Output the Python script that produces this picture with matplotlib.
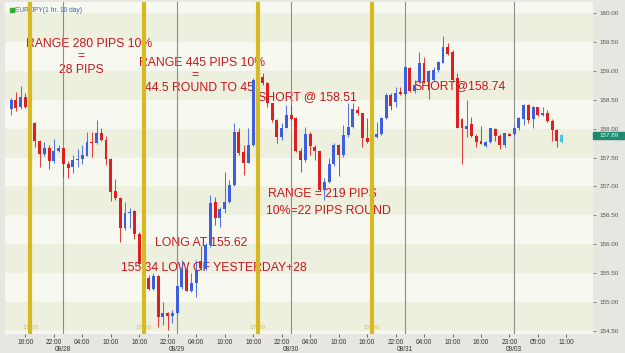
import matplotlib
matplotlib.use('Agg')
import matplotlib.pyplot as plt
import matplotlib.transforms as mtransforms
import numpy as np
from matplotlib.patches import Rectangle

# ---------------- data (hourly EUR/JPY candles) ----------------
candle_slot_first = 13   # first candle = 08/27 13:00 (hourly slots, weekend skipped)
opens = [158.34, 158.50, 158.37, 158.55, 158.37, 158.10, 157.79, 157.56, 157.67, 157.44,
         157.61, 157.67, 157.38, 157.34, 157.46, 157.47, 157.53, 157.77, 157.75, 157.92,
         157.80, 157.47, 156.92, 156.80, 156.28, 156.54, 156.57, 156.17, 155.65, 155.41,
         155.22, 155.45, 154.74, 154.81, 154.76, 154.80, 155.26, 155.55, 155.19, 155.32,
         155.70, 155.57, 155.98, 156.72, 156.45, 156.61, 156.72, 157.02, 157.95, 157.59,
         157.41, 157.71, 158.84, 158.90, 158.80, 158.44, 158.15, 157.85, 158.02, 158.24,
         158.18, 157.62, 157.45, 157.90, 157.69, 157.62, 156.94, 157.08, 157.39, 157.72,
         157.54, 157.89, 158.03, 158.32, 158.27, 157.83, 157.77, 157.85, 157.91, 158.18,
         158.58, 158.47, 158.63, 158.60, 159.06, 158.66, 158.81, 159.13, 158.81, 158.85,
         159.02, 159.14, 159.41, 159.33, 158.87, 158.16, 157.99, 158.08, 157.87, 157.79,
         157.70, 157.77, 158.00, 157.87, 157.72, 157.91, 157.91, 158.02, 158.16, 158.41,
         158.16, 158.37, 158.24, 158.28, 158.14, 157.98, 157.77]
closes = [158.50, 158.35, 158.55, 158.37, 158.10, 157.79, 157.56, 157.67, 157.44, 157.61,
          157.66, 157.38, 157.32, 157.46, 157.48, 157.54, 157.77, 157.75, 157.93, 157.80,
          157.47, 156.91, 156.80, 156.28, 156.54, 156.56, 156.17, 155.65, 155.41, 155.22,
          155.44, 154.73, 154.81, 154.76, 154.81, 155.27, 155.56, 155.19, 155.33, 155.55,
          155.58, 155.98, 156.71, 156.45, 156.61, 156.72, 157.02, 157.95, 157.57, 157.41,
          157.71, 158.84, 158.90, 158.80, 158.44, 158.15, 157.85, 158.02, 158.24, 158.16,
          157.62, 157.45, 157.90, 157.70, 157.62, 156.94, 157.08, 157.39, 157.72, 157.54,
          157.89, 158.03, 158.34, 158.27, 157.83, 157.77, 157.84, 157.91, 158.18, 158.58,
          158.39, 158.62, 158.60, 159.07, 158.66, 158.76, 159.13, 158.79, 159.00, 159.02,
          159.16, 159.42, 159.29, 158.84, 158.02, 158.01, 158.05, 157.87, 157.77, 157.74,
          157.77, 158.01, 157.87, 157.72, 157.92, 157.88, 158.02, 158.18, 158.41, 158.15,
          158.38, 158.24, 158.28, 158.14, 157.98, 157.79, 157.89]
highs = [158.53, 158.64, 158.74, 158.62, 158.40, 158.12, 157.80, 157.77, 157.72, 157.82,
         157.72, 157.68, 157.44, 157.54, 157.65, 157.72, 157.95, 157.95, 158.15, 158.02,
         157.87, 157.49, 157.12, 156.82, 156.73, 156.62, 156.59, 156.20, 155.66, 155.46,
         155.49, 155.46, 155.00, 154.82, 154.86, 155.29, 155.72, 155.58, 155.49, 155.72,
         155.96, 156.01, 156.85, 156.82, 156.65, 157.25, 157.11, 158.09, 158.01, 157.72,
         158.02, 158.87, 158.95, 158.97, 158.81, 158.44, 158.16, 158.09, 158.41, 158.41,
         158.20, 157.66, 158.03, 157.95, 157.72, 157.62, 157.14, 157.49, 157.75, 157.74,
         158.07, 158.44, 158.45, 158.39, 158.28, 158.18, 157.86, 158.12, 158.20, 158.61,
         158.61, 158.73, 158.73, 159.09, 159.07, 158.84, 159.33, 159.25, 159.02, 159.07,
         159.18, 159.61, 159.48, 159.36, 158.97, 158.18, 158.50, 158.20, 157.91, 158.05,
         157.79, 158.02, 158.02, 157.91, 157.93, 157.93, 158.05, 158.20, 158.43, 158.43,
         158.39, 158.38, 158.37, 158.33, 158.16, 158.00, 157.90]
lows = [158.24, 158.31, 158.34, 158.35, 158.08, 157.69, 157.34, 157.53, 157.30, 157.41,
        157.60, 157.17, 157.14, 157.23, 157.34, 157.38, 157.52, 157.51, 157.73, 157.79,
        157.37, 156.75, 156.76, 156.04, 156.24, 156.28, 156.08, 155.64, 155.38, 155.20,
        155.20, 154.57, 154.60, 154.51, 154.63, 154.79, 155.22, 155.18, 155.17, 155.09,
        155.55, 155.55, 155.95, 156.33, 156.30, 156.54, 156.71, 157.01, 157.54, 157.20,
        157.40, 157.70, 158.80, 158.76, 158.38, 158.12, 157.75, 157.80, 158.01, 158.15,
        157.60, 157.25, 157.43, 157.54, 157.46, 156.92, 156.76, 157.05, 157.35, 157.18,
        157.51, 157.86, 158.01, 158.24, 157.69, 157.75, 157.74, 157.83, 157.89, 158.16,
        158.32, 158.37, 158.58, 158.58, 158.64, 158.61, 158.79, 158.79, 158.51, 158.83,
        158.99, 159.13, 159.28, 158.81, 158.01, 157.39, 157.86, 157.86, 157.69, 157.73,
        157.69, 157.76, 157.79, 157.65, 157.69, 157.87, 157.87, 157.98, 158.06, 158.10,
        158.02, 158.22, 158.22, 158.12, 157.79, 157.69, 157.76]
last_price = 157.89

tick_slots = [16, 22, 28, 34, 40, 46, 52, 58, 64, 70, 76, 82, 88, 94, 100, 106, 112, 118, 124, 130]
tick_labels = ["16:00", "22:00", "04:00", "10:00", "16:00", "22:00", "04:00", "10:00", "16:00", "22:00",
               "04:00", "10:00", "16:00", "22:00", "04:00", "10:00", "16:00", "23:00", "05:00", "11:00"]
date_slots = [24, 48, 72, 96, 119]
date_labels = ["08/28", "08/29", "08/30", "08/31", "09/03"]
marker_slots = [17, 41, 65, 89]          # 17:00 session lines
marker_labels = ["17:00", "17:00", "17:00", "17:00"]
y_ticks = [154.5, 155.0, 155.5, 156.0, 156.5, 157.0, 157.5, 158.0, 158.5, 159.0, 159.5, 160.0]

notes = [
    ("RANGE 280 PIPS 10%", 89, 44), ("=", 81, 56), ("28 PIPS", 81, 70),
    ("RANGE 445 PIPS 10%", 202, 63), ("=", 195, 75), ("44.5 ROUND TO 45", 199, 88),
    ("SHORT @ 158.51", 307, 97), ("SHORT@158.74", 460, 86),
    ("RANGE = 219 PIPS", 322, 194), ("10%=22 PIPS ROUND", 328, 211),
    ("LONG AT 155.62", 201, 243), ("155.34 LOW OF YESTERDAY+28", 214, 268),
]

# ---------------- figure ----------------
W, H = 625, 353
fig = plt.figure(figsize=(W / 100, H / 100), dpi=100, facecolor='#e7e6e1')
L_, R_, T_, B_ = 5, 593, 2, 334
ax = fig.add_axes([L_ / W, 1 - B_ / H, (R_ - L_) / W, (B_ - T_) / H])
ax.set_facecolor('#f7f9f0')
ax.set_xlim(11.72, 135.6)
ax.set_ylim(154.44, 160.196)
for s in ax.spines.values():
    s.set_visible(False)

def fp(x, y):
    return x / W, 1 - y / H

# background bands
for k in range(308, 322):
    lo = k / 2
    col = '#edf0df' if k % 2 == 1 else '#f7f9f0'
    ax.axhspan(lo, lo + 0.5, color=col, lw=0, zorder=0)

# notes (red text)
for txt, x, y in notes:
    ax.text(*fp(x, y), txt, transform=fig.transFigure, ha='center', va='center',
            fontsize=8.8, color='#c4181c', family='Liberation Sans', zorder=1)

# midnight separators
for s in date_slots:
    ax.axvline(s, color='#8c8c8c', lw=0.8, zorder=2)

# candles
o = np.array(opens); c = np.array(closes); h = np.array(highs); l = np.array(lows)
xs = np.arange(candle_slot_first, candle_slot_first + len(o))
cols = np.where(c >= o, '#3c5fe0', '#de1f1f').astype(object)
cols[-1] = '#45c6e6'
ax.vlines(xs, l, h, colors=list(cols), lw=0.75, alpha=0.85, zorder=3)
body = c - o
body = np.where(np.abs(body) < 0.02, np.where(body >= 0, 0.02, -0.02), body)
ax.bar(xs, body, bottom=o, width=0.62, color=list(cols), lw=0, zorder=4)

# 17:00 markers
for s, lab in zip(marker_slots, marker_labels):
    ax.text(s, 0.012, lab, transform=ax.get_xaxis_transform(), ha='center', va='bottom',
            fontsize=4.6, color='#c8b85c', family='Liberation Sans', zorder=4.5)
    ax.axvline(s, color='#d7ba22', lw=3.0, zorder=5)

# legend
fig.patches.append(Rectangle(fp(10, 12), 3.5 / W, 4 / H, transform=fig.transFigure,
                             color='#2fae2f', zorder=1))
ax.text(*fp(15, 10.5), "EUR/JPY(1 hr. 10 day)", transform=fig.transFigure, ha='left',
        va='center', fontsize=4.8, color='#3a62b4', family='Liberation Sans', zorder=1)

# right axis
ax.yaxis.tick_right()
ax.set_yticks(y_ticks)
ax.set_yticklabels([f"{v:.2f}" for v in y_ticks])
ax.tick_params(axis='y', direction='out', length=2.5, width=0.6, color='#777777',
               pad=2, labelsize=4.5, labelcolor='#555555')
for t in ax.get_yticklabels():
    t.set_family('Liberation Sans')

# bottom axis
ax.set_xticks(tick_slots)
ax.set_xticklabels(tick_labels)
ax.tick_params(axis='x', direction='out', length=2.2, width=0.6, color='#555555',
               pad=1.5, labelsize=4.7, labelcolor='#333333')
for t in ax.get_xticklabels():
    t.set_family('Liberation Sans')
date_tr = mtransforms.blended_transform_factory(ax.transData, fig.transFigure)
for s, lab in zip(date_slots, date_labels):
    ax.text(s, 3.2 / H, lab, transform=date_tr, ha='center', va='center',
            fontsize=4.7, color='#333333', family='Liberation Sans')

# last price box
ypx = 13.3 + (160 - last_price) * 57.7
fig.patches.append(Rectangle(fp(593, ypx + 3.5), 32 / W, 7 / H, transform=fig.transFigure,
                             color='#1f8a6e', zorder=1))
fig.text(*fp(599, ypx), f"{last_price:.2f}", ha='left', va='center', fontsize=4.5,
         color='#d8fff0', family='Liberation Sans')

fig.savefig('out.png', dpi=100, facecolor=fig.get_facecolor())
